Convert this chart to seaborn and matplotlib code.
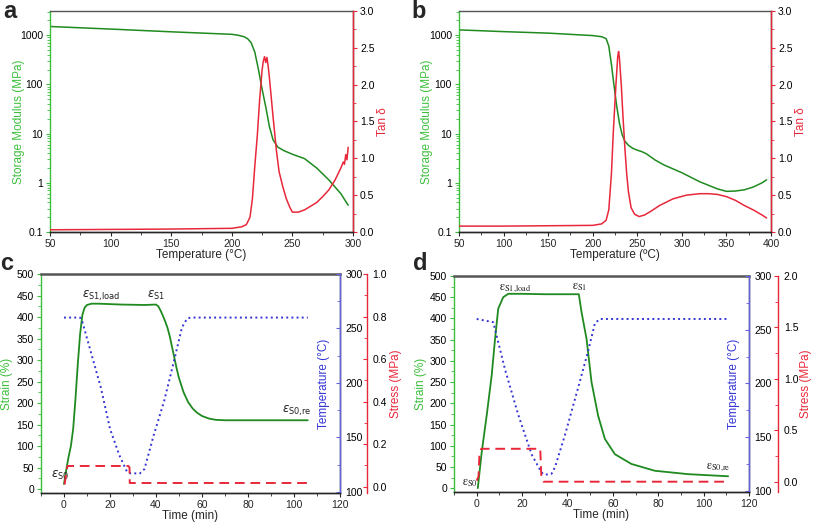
import numpy as np
import pandas as pd
import matplotlib
matplotlib.use("Agg")
import matplotlib.pyplot as plt
import matplotlib.ticker as mticker
import seaborn as sns

# --- panel a: DMA, storage modulus + tan delta
a_temp = [50, 100, 150, 200, 205, 210, 213, 216, 219, 222, 225, 228, 231, 234, 238,
          243, 250, 260, 270, 280, 290, 296]
a_modulus = [1500, 1330, 1170, 1040, 1000, 930, 850, 700, 450, 200, 80, 35, 14, 7.5,
             5.3, 4.5, 3.8, 3.1, 2.0, 1.15, 0.6, 0.35]
a_tan_temp = [50, 100, 150, 200, 208, 212, 215, 217, 219, 221, 223, 225, 226, 227,
              228, 229, 230, 231, 234, 236.7, 239, 242, 245, 248, 250, 255, 260, 265,
              270, 275, 280, 285, 288, 290, 292, 293, 294, 295, 296]
a_tan = [0.03, 0.035, 0.04, 0.05, 0.07, 0.1, 0.2, 0.45, 0.9, 1.3, 1.8, 2.2, 2.32, 2.38,
         2.3, 2.37, 2.25, 2.1, 1.57, 1.12, 0.82, 0.62, 0.45, 0.33, 0.27, 0.27, 0.3, 0.35,
         0.4, 0.48, 0.57, 0.7, 0.8, 0.87, 0.95, 0.92, 1.05, 0.98, 1.15]

# --- panel b
b_temp = [50, 100, 150, 200, 210, 215, 218, 221, 224, 227, 230, 233, 236, 240, 245,
          250, 255, 260, 270, 280, 300, 320, 340, 350, 360, 370, 380, 390, 395]
b_modulus = [1280, 1180, 1100, 980, 930, 850, 600, 250, 90, 35, 16, 9.5, 7, 5.8, 5,
             4.6, 4.3, 3.9, 2.9, 2.3, 1.6, 1.05, 0.75, 0.67, 0.68, 0.72, 0.82, 1.0, 1.15]
b_tan_temp = [50, 100, 150, 200, 210, 215, 218, 221, 223, 226, 228, 229, 230, 232, 234,
              236, 238, 240, 243, 247, 252, 258, 265, 275, 290, 305, 320, 330, 340, 350,
              360, 370, 380, 390, 395]
b_tan = [0.08, 0.08, 0.085, 0.09, 0.11, 0.16, 0.3, 0.8, 1.34, 2.0, 2.38, 2.45, 2.35,
         2.0, 1.55, 1.15, 0.8, 0.55, 0.33, 0.24, 0.21, 0.23, 0.28, 0.36, 0.45, 0.5, 0.52,
         0.52, 0.51, 0.48, 0.43, 0.36, 0.3, 0.23, 0.19]

# --- panel c: shape memory cycle
c_time = [0, 1, 2, 3, 4, 5, 6, 7, 8, 9, 10, 12, 15, 25, 35, 40, 41, 42, 43, 44, 45, 46,
          47, 48, 49, 50, 52, 54, 56, 58, 60, 63, 66, 70, 106]
c_strain = [12, 45, 75, 100, 140, 210, 290, 360, 405, 422, 428, 431, 431, 429, 428, 429,
            425, 415, 403, 390, 375, 355, 330, 305, 280, 258, 225, 202, 187, 177, 170,
            164, 161, 160, 160]
c_temp_time = [0, 7, 8, 10, 16, 20, 24, 27.5, 29, 33, 35, 39, 43.5, 47.7, 51.3, 53.5,
               55, 106]
c_temp = [260, 260, 256, 241, 196, 158, 134, 118, 117, 117, 121, 152, 183, 219, 251,
          259, 260, 260]
c_stress_time = [0.3, 0.8, 1.5, 28, 28.5, 28.6, 106]
c_stress = [0.01, 0.05, 0.097, 0.097, 0.09, 0.017, 0.017]

# --- panel d
d_time = [0.5, 1, 2.2, 4.4, 6.6, 8.1, 9.5, 11.7, 13.9, 20, 30, 45, 46.2, 48.4, 50.6,
          53.5, 56.5, 60.9, 68.2, 78.5, 93.2, 110.8]
d_strain = [0, 25, 84, 171, 265, 352, 423, 450, 458, 458, 457, 457, 415, 352, 250, 171,
            116, 80, 57, 41, 33, 28]
d_temp_time = [0, 7.3, 12.5, 18.3, 24.2, 28.6, 30, 33, 34.5, 38.9, 44.7, 49.1, 52.1,
               54.3, 111]
d_temp = [260, 257, 213, 171, 134, 117, 115, 116, 122, 152, 196, 230, 256, 260, 260]
d_stress_time = [0, 0.8, 1.2, 2, 28, 28.5, 29.5, 111]
d_stress = [0.01, 0.05, 0.25, 0.32, 0.32, 0.05, 0.0, 0.0]

GREEN = "#1f8a1f"
GREEN_SP = "#3cbf3c"
RED = "#e8283a"
BLUE = "#3535d5"
BLUE_SP = "#6060e0"
TOPC = "#555555"

sns.set_style("ticks")
plt.rcParams["font.family"] = ["Liberation Sans", "DejaVu Sans"]
plt.rcParams["xtick.labelsize"] = 7.5
plt.rcParams["ytick.labelsize"] = 7.5
plt.rcParams["axes.linewidth"] = 1.0
plt.rcParams["xtick.major.size"] = 3
plt.rcParams["ytick.major.size"] = 3
plt.rcParams["xtick.minor.size"] = 2
plt.rcParams["ytick.minor.size"] = 2
plt.rcParams["xtick.major.pad"] = 2
plt.rcParams["ytick.major.pad"] = 2
LBL = 8.5

fig = plt.figure(figsize=(8.13, 5.23), dpi=100)


def color_axis(ax, side, col, label, lx):
    ax.spines[side].set_color(col)
    ax.tick_params(axis="y", which="both", colors=col, labelcolor="black")
    ax.set_ylabel(label, color=col, fontsize=LBL)
    ax.yaxis.set_label_coords(lx, 0.5)


def dma_panel(rect, temp, mod, ttemp, tan, xmax, xlabel, letter):
    ax = fig.add_axes(rect)
    sns.lineplot(x=temp, y=mod, ax=ax, color=GREEN, lw=1.1, estimator=None, sort=False)
    ax.set_yscale("log")
    ax.set_ylim(0.1, 3100)
    ax.set_xlim(50, xmax)
    ax.xaxis.set_major_locator(mticker.MultipleLocator(50))
    ax.xaxis.set_minor_locator(mticker.MultipleLocator(25))
    ax.yaxis.set_major_formatter(mticker.FuncFormatter(lambda v, _: f"{v:g}"))
    color_axis(ax, "left", GREEN_SP, "Storage Modulus (MPa)", -0.083)
    ax.spines["top"].set_color(TOPC)
    ax.set_xlabel(xlabel, fontsize=LBL, labelpad=0)
    ax2 = ax.twinx()
    sns.lineplot(x=ttemp, y=tan, ax=ax2, color=RED, lw=1.1, estimator=None, sort=False)
    ax2.set_ylim(0, 3.0)
    ax2.yaxis.set_major_locator(mticker.MultipleLocator(0.5))
    ax2.yaxis.set_minor_locator(mticker.MultipleLocator(0.25))
    ax2.yaxis.set_major_formatter(mticker.FormatStrFormatter("%.1f"))
    ax2.spines["right"].set_color(RED)
    ax2.spines["left"].set_visible(False)
    ax2.spines["top"].set_visible(False)
    ax2.tick_params(axis="y", which="both", colors=RED, labelcolor="black")
    ax2.set_ylabel("Tan δ", color=RED, fontsize=LBL, labelpad=2)
    fig.text(rect[0] - 0.058, 0.978, letter, fontsize=17, fontweight="bold", va="center")
    return ax


def smp_panel(rect, time, strain, ttime, temp, stime, stress, smax, sstep, letter, ann,
              serif, lx, tx, sx, off):
    ax = fig.add_axes(rect)
    sns.lineplot(x=time, y=strain, ax=ax, color=GREEN, lw=1.3, estimator=None, sort=False)
    ax.set_xlim(-10, 120)
    ax.set_ylim(-9, 500)
    ax.xaxis.set_major_locator(mticker.MultipleLocator(20))
    ax.xaxis.set_minor_locator(mticker.MultipleLocator(10))
    ax.yaxis.set_major_locator(mticker.MultipleLocator(50))
    ax.yaxis.set_minor_locator(mticker.MultipleLocator(25))
    color_axis(ax, "left", GREEN_SP, "Strain (%)", lx)
    ax.spines["top"].set_color(TOPC)
    ax.spines["top"].set_linewidth(1.8)
    ax.set_xlabel("Time (min)", fontsize=LBL, labelpad=0)

    ax2 = ax.twinx()
    sns.lineplot(x=ttime, y=temp, ax=ax2, color=BLUE, lw=1.4, ls=":", estimator=None,
                 sort=False)
    ax2.set_ylim(99, 300)
    ax2.yaxis.set_major_locator(mticker.MultipleLocator(50))
    ax2.yaxis.set_minor_locator(mticker.MultipleLocator(25))
    ax2.spines["right"].set_color(BLUE_SP)
    ax2.spines["top"].set_visible(False)
    ax2.spines["left"].set_visible(False)
    ax2.tick_params(axis="y", which="both", colors=BLUE_SP, labelcolor="black",
                    direction="in", pad=4)
    ax2.set_ylabel("Temperature (°C)", color=BLUE, fontsize=LBL)
    ax2.yaxis.set_label_coords(tx, 0.5)

    ax3 = ax.twinx()
    sns.lineplot(x=stime, y=stress, ax=ax3, color=RED, lw=1.4, ls=(0, (5, 3)),
                 estimator=None, sort=False)
    lo = -0.03 if smax == 1.0 else -0.1
    ax3.set_ylim(lo, smax)
    ax3.yaxis.set_major_locator(mticker.MultipleLocator(sstep))
    ax3.yaxis.set_minor_locator(mticker.MultipleLocator(sstep / 2))
    ax3.yaxis.set_major_formatter(mticker.FormatStrFormatter("%.1f"))
    ax3.spines["right"].set_position(("outward", off))
    ax3.spines["right"].set_color(RED)
    for s in ("top", "left", "bottom"):
        ax3.spines[s].set_visible(False)
    ax3.tick_params(axis="y", which="both", colors=RED, labelcolor="black",
                    direction="in", pad=4)
    ax3.set_ylabel("Stress (MPa)", color=RED, fontsize=LBL)
    ax3.yaxis.set_label_coords(sx, 0.5)

    kw = dict(fontsize=8.5, color="#222222")
    if serif:
        kw["math_fontfamily"] = "stix"
    for (x, y, s) in ann:
        ax.text(x, y, s, **kw)
    fig.text(rect[0] - 0.05, 0.497, letter, fontsize=17, fontweight="bold", va="center")
    return ax


dma_panel([0.0615, 0.5564, 0.3727, 0.4226], a_temp, a_modulus, a_tan_temp, a_tan,
          300, "Temperature (°C)", "a")
dma_panel([0.5646, 0.5564, 0.3838, 0.4226], b_temp, b_modulus, b_tan_temp, b_tan,
          400, "Temperature (ºC)", "b")

ann_c = [(8, 445, r"$\varepsilon_{\mathrm{S1{,}load}}$"),
         (36, 445, r"$\varepsilon_{\mathrm{S1}}$"),
         (95, 178, r"$\varepsilon_{\mathrm{S0{,}re}}$"),
         (-5.5, 25, r"$\varepsilon_{\mathrm{S0}}$")]
ann_d = [(10, 468, r"$\mathrm{\varepsilon_{S1{,}load}}$"),
         (42, 468, r"$\mathrm{\varepsilon_{S1}}$"),
         (101, 45, r"$\mathrm{\varepsilon_{S0{,}re}}$"),
         (-6.5, 8, r"$\mathrm{\varepsilon_{S0}}$")]

smp_panel([0.0504, 0.0574, 0.3678, 0.4187], c_time, c_strain, c_temp_time, c_temp,
          c_stress_time, c_stress, 1.0, 0.2, "c", ann_c, False,
          -0.094, 0.926, 1.167, 19.5)
smp_panel([0.5584, 0.0593, 0.3629, 0.4130], d_time, d_strain, d_temp_time, d_temp,
          d_stress_time, d_stress, 2.0, 0.5, "d", ann_d, True,
          -0.092, 0.929, 1.173, 21)

fig.savefig("out.png", dpi=100)
